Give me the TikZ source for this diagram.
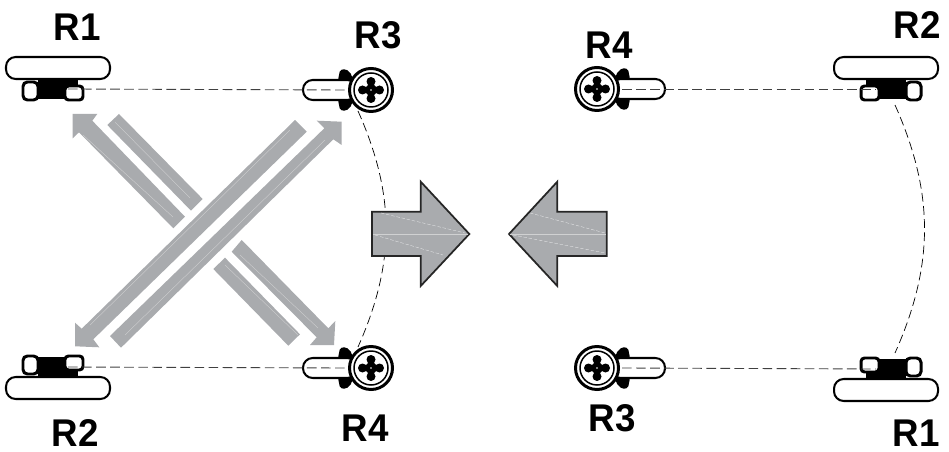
\documentclass[tikz,border=0pt]{standalone}
\usepackage{fontspec}
\setmainfont{Liberation Sans}
\usepackage{xcolor}
\definecolor{movegray}{HTML}{A9ABAE}
\tikzset{
  botline/.style={line width=1.15pt,black},
  gauge/.style={line width=0.5pt,black!75,dash pattern=on 5.5pt off 2.5pt},
  swing/.style={line width=0.4pt,black,dash pattern=on 5pt off 2.5pt},
  motion/.style={fill=movegray},
  push/.style={fill=movegray,draw=black!85,line width=1pt,line join=miter},
  seam/.style={line width=0.2pt,white!45!movegray},
  seamdash/.style={seam,white!70!movegray,dash pattern=on 2pt off 1pt},
  botlabel/.style={font=\fontsize{22}{24}\selectfont\bfseries,inner sep=0pt,xscale=0.95},
  trackbot/.pic={
    \draw[botline,fill=white,rounded corners=5.5pt] (-52,-11) rectangle (52,11);
    \fill[black] (-20,11) rectangle (7,31);
    \draw[line width=1.7pt,fill=white,rounded corners=2.5pt] (-35,14) rectangle (-20,32);
    \draw[line width=1.7pt,fill=white,rounded corners=2pt] (7,18) rectangle (25,32);
    \fill[black] (5,12) rectangle (20,18);
    \coordinate (-hub) at (10,21);
    \coordinate (-tail) at (-9,37);
  },
  wheelbot/.pic={
    \fill[black,rounded corners=1pt] (-33,-10) -- (-31,-20) -- (-25,-21) -- (-19,-15) -- (-19,15)
      -- (-25,21) -- (-31,20) -- (-33,10) -- cycle;
    \draw[botline,fill=white,rounded corners=5.5pt] (-68,-10) rectangle (-14,10);
    \draw[line width=1.7pt,fill=white] (0,0) circle (21.5);
    \draw[line width=0.85pt] (0,0) circle (17);
    \fill[black] (-8.5,0) circle (4.5);
    \fill[black] (8.5,0) circle (4.5);
    \fill[black] (0,-8.5) circle (4.5);
    \fill[black] (0,8.5) circle (4.5);
    \fill[black] (-8,0) -- (0,-8) -- (8,0) -- (0,8) -- cycle;
    \fill[white] (0,0) circle (0.8);
    \coordinate (-hub) at (-25,0);
    \coordinate (-tail) at (-13,21);
  },
}

\begin{document}
\begin{tikzpicture}[x=0.02cm,y=-0.02cm]
  \useasboundingbox (0,0) rectangle (949,452);

  % grey diagonal moves
  \fill[motion] (72.7,114) -- (97.3,114) -- (92.3,120.7) -- (185,216.7) -- (173.3,228.3)
    -- (79,132.3) -- (72.7,138.3) -- cycle;
  \fill[motion] (119,114) -- (202.7,199) -- (191,210.7) -- (107.3,125) -- cycle;
  \fill[motion] (295,120) -- (306.7,131.7) -- (93.3,339.3) -- (99.3,347.3) -- (75,346.3)
    -- (75,322.7) -- (81.7,328.7) -- cycle;
  \fill[motion] (110,336) -- (121,347.7) -- (333.3,139.3) -- (341.7,145) -- (341.7,121.7)
    -- (316.7,120.7) -- (324.3,128.3) -- cycle;
  \fill[motion] (213.3,269) -- (225,257.7) -- (300,334.3) -- (288.3,345.7) -- cycle;
  \fill[motion] (241.7,240) -- (231.7,251.7) -- (316.7,337.3) -- (310,345) -- (334,345)
    -- (335.3,321) -- (328.3,328.3) -- cycle;
  \draw[seam] (83,135) -- (173,217);
  \draw[seam] (115,122) -- (190,198);
  \draw[seam] (290,130) -- (90,325);
  \draw[seam] (325,140) -- (125,335);
  \draw[seam] (225,265) -- (298,335);
  \draw[seam] (240,255) -- (318,328);

  % robots, left side
  \pic (leftone) at (58,68) {trackbot};
  \pic[yscale=-1] (lefttwo) at (58,388) {trackbot};
  \pic (leftthree) at (371,90) {wheelbot};
  \pic[yscale=-1] (leftfour) at (371,368) {wheelbot};

  % robots, right side
  \pic[xscale=-1] (righttwo) at (886,68) {trackbot};
  \pic[xscale=-1,yscale=-1] (rightone) at (886,390) {trackbot};
  \pic[xscale=-1] (rightfour) at (597,89) {wheelbot};
  \pic[xscale=-1,yscale=-1] (rightthree) at (597,368) {wheelbot};

  % axis lines and turning arcs
  \draw[gauge] (leftone-hub) -- (leftthree-hub);
  \draw[gauge] (lefttwo-hub) -- (leftfour-hub);
  \draw[gauge] (rightfour-hub) -- (righttwo-hub);
  \draw[gauge] (rightthree-hub) -- (rightone-hub);
  \draw[swing] (leftthree-tail) to[bend left=24] (leftfour-tail);
  \draw[swing] (righttwo-tail) to[bend left=24] (rightone-tail);

  % big arrows
  \draw[push] (372,211.7) -- (420.7,211.7) -- (420.7,181.7) -- (469.3,234) -- (420.7,286)
    -- (420.7,256) -- (372,256) -- cycle;
  \draw[push] (606.7,211.7) -- (557.3,211.7) -- (557.3,181.7) -- (509,234) -- (557.3,286)
    -- (557.3,256) -- (606.7,256) -- cycle;
  \draw[seam] (373,234) -- (468,234);
  \draw[seamdash] (381,213) -- (465,233);
  \draw[seamdash] (375,235) -- (443,255);
  \draw[seam] (510,234) -- (606,234);
  \draw[seamdash] (530,213) -- (605,233);
  \draw[seamdash] (513,235) -- (605,253);

  \node[botlabel] (labone) at (77,27) {R1};
  \node[botlabel] (labthree) at (378,35) {R3};
  \node[botlabel] (labfour) at (609,45) {R4};
  \node[botlabel] (labtwo) at (917,25) {R2};
  \node[botlabel] (labtwob) at (75,433) {R2};
  \node[botlabel] (labfourb) at (365,428) {R4};
  \node[botlabel] (labthreeb) at (612,418) {R3};
  \node[botlabel] (laboneb) at (916,433) {R1};
\end{tikzpicture}
\end{document}
